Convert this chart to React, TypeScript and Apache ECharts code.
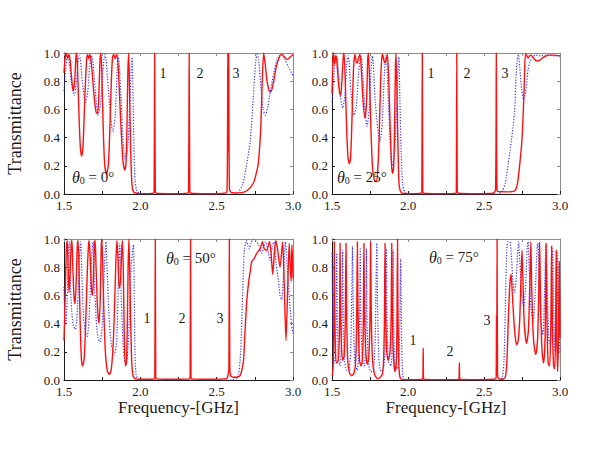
import React, { useEffect, useRef } from "react";
import * as echarts from "echarts";

// ---------- data (frequency in GHz, transmittance) ----------
const xTicks = [1.5, 2.0, 2.5, 3.0];
const yTicks = [0.0, 0.2, 0.4, 0.6, 0.8, 1.0];
const angles = ["0", "25", "50", "75"];
const modeLabels = ["1", "2", "3"];

const red0 = [[1.5,0.86],[1.508,0.97],[1.515,1.0],[1.523,0.96],[1.532,0.99],[1.54,0.95],[1.55,0.82],[1.56,0.73],[1.57,0.8],[1.578,0.97],[1.583,1.0],[1.59,0.85],[1.6,0.5],[1.608,0.32],[1.616,0.27],[1.625,0.35],[1.637,0.7],[1.648,0.95],[1.655,0.99],[1.662,0.96],[1.67,0.99],[1.68,0.92],[1.695,0.72],[1.71,0.58],[1.72,0.57],[1.728,0.7],[1.736,0.95],[1.742,1.0],[1.748,0.85],[1.756,0.5],[1.766,0.22],[1.778,0.14],[1.79,0.2],[1.8,0.45],[1.81,0.8],[1.818,0.97],[1.826,0.99],[1.835,0.96],[1.845,0.99],[1.855,0.9],[1.87,0.55],[1.885,0.25],[1.898,0.17],[1.905,0.2],[1.912,0.45],[1.918,0.85],[1.924,1.0],[1.93,0.7],[1.936,0.35],[1.945,0.07],[1.955,0.015],[1.975,0.005],[2.0,0.003],[2.05,0.003],[2.085,0.006],[2.09,0.02],[2.094,1.0],[2.098,0.02],[2.105,0.005],[2.2,0.002],[2.31,0.006],[2.316,0.02],[2.32,1.0],[2.324,0.02],[2.33,0.005],[2.45,0.002],[2.55,0.005],[2.568,0.02],[2.573,1.0],[2.576,0.3],[2.579,1.0],[2.584,0.03],[2.6,0.01],[2.65,0.008],[2.7,0.025],[2.74,0.076],[2.76,0.15],[2.773,0.22],[2.788,0.45],[2.799,0.81],[2.808,1.0],[2.818,0.92],[2.83,0.8],[2.845,0.73],[2.855,0.725],[2.87,0.78],[2.89,0.9],[2.91,0.97],[2.926,0.99],[2.945,0.97],[2.96,0.955],[2.98,0.97],[3.0,0.99]];
const blue0 = [[1.5,0.73],[1.51,0.88],[1.52,0.97],[1.527,0.98],[1.535,0.93],[1.55,0.78],[1.567,0.7],[1.58,0.78],[1.592,0.93],[1.6,0.98],[1.607,0.96],[1.62,0.8],[1.64,0.65],[1.655,0.72],[1.668,0.9],[1.68,0.98],[1.688,0.95],[1.7,0.8],[1.724,0.56],[1.74,0.65],[1.755,0.88],[1.768,0.99],[1.776,0.95],[1.79,0.75],[1.82,0.44],[1.835,0.55],[1.848,0.88],[1.855,0.98],[1.862,0.92],[1.875,0.65],[1.898,0.25],[1.915,0.3],[1.93,0.6],[1.942,0.92],[1.947,0.97],[1.952,0.7],[1.958,0.35],[1.965,0.1],[1.975,0.03],[1.99,0.005],[2.02,0],[2.5,0],[2.6,0],[2.64,0.01],[2.67,0.07],[2.69,0.17],[2.72,0.38],[2.74,0.69],[2.755,0.93],[2.765,0.99],[2.775,0.95],[2.79,0.75],[2.805,0.6],[2.818,0.56],[2.835,0.62],[2.855,0.75],[2.875,0.86],[2.895,0.95],[2.91,0.98],[2.925,0.99],[2.945,0.96],[2.97,0.9],[3.0,0.84]];

const red25 = [[1.5,0.71],[1.506,0.95],[1.51,1.0],[1.517,0.92],[1.524,0.98],[1.53,0.96],[1.54,0.82],[1.55,0.72],[1.557,0.7],[1.565,0.8],[1.574,0.97],[1.579,1.0],[1.586,0.85],[1.595,0.5],[1.605,0.26],[1.614,0.216],[1.623,0.27],[1.632,0.55],[1.642,0.9],[1.651,0.99],[1.659,0.94],[1.667,0.93],[1.675,0.97],[1.684,0.99],[1.692,0.9],[1.705,0.65],[1.717,0.54],[1.727,0.65],[1.735,0.95],[1.74,1.0],[1.746,0.85],[1.755,0.5],[1.766,0.2],[1.778,0.1],[1.79,0.088],[1.8,0.15],[1.81,0.4],[1.82,0.8],[1.828,0.97],[1.833,0.99],[1.841,0.95],[1.849,0.93],[1.857,0.96],[1.864,0.99],[1.872,0.85],[1.882,0.5],[1.892,0.2],[1.899,0.146],[1.906,0.2],[1.912,0.5],[1.917,0.88],[1.921,1.0],[1.927,0.75],[1.932,0.45],[1.938,0.15],[1.943,0.05],[1.955,0.01],[1.97,0.004],[2.05,0.003],[2.088,0.006],[2.091,0.02],[2.094,1.0],[2.097,0.02],[2.102,0.005],[2.2,0.002],[2.316,0.006],[2.318,0.02],[2.321,1.0],[2.324,0.02],[2.33,0.005],[2.45,0.002],[2.56,0.005],[2.576,0.03],[2.581,1.0],[2.584,0.15],[2.587,0.02],[2.61,0.016],[2.66,0.015],[2.7,0.02],[2.715,0.05],[2.726,0.12],[2.738,0.24],[2.748,0.36],[2.756,0.52],[2.762,0.69],[2.767,0.85],[2.772,0.99],[2.778,0.99],[2.785,0.97],[2.792,0.965],[2.8,0.98],[2.809,0.985],[2.825,0.965],[2.845,0.945],[2.86,0.945],[2.885,0.965],[2.91,0.98],[2.923,0.985],[2.96,0.985],[3.0,0.98]];
const blue25 = [[1.5,0.65],[1.51,0.8],[1.522,0.95],[1.53,0.98],[1.538,0.93],[1.552,0.72],[1.57,0.61],[1.585,0.7],[1.597,0.92],[1.605,0.98],[1.613,0.93],[1.625,0.72],[1.645,0.56],[1.66,0.62],[1.675,0.86],[1.69,0.98],[1.697,0.94],[1.71,0.7],[1.73,0.48],[1.745,0.6],[1.757,0.88],[1.765,0.98],[1.772,0.92],[1.785,0.65],[1.815,0.37],[1.83,0.5],[1.845,0.86],[1.855,0.98],[1.862,0.9],[1.875,0.55],[1.895,0.2],[1.91,0.27],[1.925,0.6],[1.936,0.92],[1.94,0.97],[1.946,0.7],[1.955,0.3],[1.965,0.07],[1.98,0.01],[2.0,0],[2.5,0],[2.59,0],[2.62,0.02],[2.64,0.08],[2.66,0.22],[2.68,0.38],[2.7,0.57],[2.71,0.82],[2.718,0.95],[2.726,0.99],[2.735,0.9],[2.748,0.74],[2.76,0.67],[2.775,0.73],[2.79,0.88],[2.8,0.93],[2.82,0.97],[2.84,0.985],[2.87,0.98],[2.92,0.985],[2.96,0.98],[3.0,0.98]];

const red50 = [[1.5,0.28],[1.508,0.6],[1.515,0.92],[1.521,0.99],[1.527,0.8],[1.533,0.62],[1.54,0.75],[1.547,0.96],[1.552,0.99],[1.558,0.8],[1.565,0.6],[1.572,0.54],[1.58,0.7],[1.587,0.95],[1.592,0.99],[1.598,0.8],[1.606,0.4],[1.614,0.15],[1.622,0.1],[1.632,0.15],[1.642,0.4],[1.652,0.75],[1.66,0.95],[1.665,0.99],[1.672,0.85],[1.68,0.65],[1.687,0.6],[1.694,0.78],[1.7,0.97],[1.704,0.99],[1.71,0.8],[1.72,0.5],[1.73,0.4],[1.738,0.6],[1.744,0.95],[1.748,1.0],[1.754,0.8],[1.762,0.45],[1.772,0.18],[1.785,0.06],[1.798,0.04],[1.81,0.08],[1.822,0.25],[1.832,0.55],[1.84,0.85],[1.847,0.99],[1.854,0.85],[1.862,0.65],[1.87,0.7],[1.878,0.92],[1.883,0.99],[1.889,0.75],[1.895,0.3],[1.902,0.1],[1.909,0.12],[1.915,0.4],[1.92,0.8],[1.925,1.0],[1.93,0.8],[1.936,0.45],[1.944,0.12],[1.952,0.03],[1.965,0.01],[1.99,0.005],[2.05,0.005],[2.092,0.008],[2.095,0.03],[2.098,1.0],[2.101,0.03],[2.106,0.008],[2.2,0.005],[2.323,0.008],[2.326,0.03],[2.329,1.0],[2.332,0.03],[2.337,0.008],[2.45,0.005],[2.565,0.01],[2.575,0.04],[2.58,0.08],[2.583,1.0],[2.586,0.1],[2.592,0.03],[2.61,0.02],[2.635,0.02],[2.655,0.035],[2.667,0.08],[2.676,0.14],[2.686,0.35],[2.698,0.57],[2.71,0.7],[2.72,0.77],[2.73,0.84],[2.745,0.86],[2.763,0.9],[2.785,0.93],[2.8,0.98],[2.812,0.93],[2.828,0.92],[2.845,0.98],[2.855,0.92],[2.867,0.75],[2.878,0.9],[2.888,0.99],[2.9,0.92],[2.915,0.8],[2.932,0.98],[2.942,0.7],[2.954,0.28],[2.964,0.6],[2.975,0.97],[2.982,0.8],[2.988,0.7],[2.993,0.96],[2.997,0.85],[3.0,0.72]];
const blue50 = [[1.5,0.66],[1.505,0.45],[1.512,0.4],[1.52,0.55],[1.53,0.95],[1.535,0.98],[1.542,0.7],[1.55,0.5],[1.562,0.38],[1.575,0.36],[1.59,0.55],[1.603,0.9],[1.61,0.98],[1.617,0.75],[1.628,0.45],[1.64,0.34],[1.652,0.31],[1.665,0.45],[1.68,0.85],[1.69,0.98],[1.697,0.75],[1.71,0.45],[1.722,0.3],[1.735,0.27],[1.75,0.38],[1.765,0.8],[1.775,0.98],[1.782,0.8],[1.795,0.45],[1.81,0.25],[1.83,0.18],[1.845,0.28],[1.857,0.75],[1.865,0.97],[1.872,0.7],[1.885,0.3],[1.9,0.13],[1.912,0.14],[1.925,0.35],[1.94,0.8],[1.955,0.96],[1.96,0.6],[1.965,0.2],[1.972,0.04],[1.985,0.005],[2.0,0],[2.5,0],[2.6,0],[2.63,0.01],[2.645,0.05],[2.657,0.2],[2.665,0.43],[2.674,0.75],[2.68,0.9],[2.694,0.99],[2.705,0.95],[2.712,0.93],[2.725,0.97],[2.74,1.0],[2.76,0.98],[2.775,0.96],[2.795,0.9],[2.81,0.95],[2.82,0.98],[2.835,0.92],[2.85,0.85],[2.865,0.95],[2.875,0.98],[2.89,0.82],[2.905,0.7],[2.915,0.6],[2.926,0.57],[2.94,0.8],[2.95,0.98],[2.96,0.85],[2.975,0.6],[2.99,0.4],[3.0,0.33]];

const red75 = [[1.5,0.03],[1.505,0.05],[1.51,0.2],[1.513,0.6],[1.515,0.98],[1.518,0.5],[1.523,0.2],[1.53,0.12],[1.54,0.14],[1.548,0.3],[1.551,0.6],[1.553,0.97],[1.556,0.55],[1.562,0.25],[1.57,0.14],[1.58,0.17],[1.587,0.4],[1.592,0.97],[1.596,0.5],[1.603,0.15],[1.615,0.05],[1.63,0.03],[1.645,0.05],[1.655,0.12],[1.662,0.4],[1.667,0.98],[1.671,0.5],[1.68,0.15],[1.69,0.1],[1.7,0.14],[1.706,0.4],[1.71,0.97],[1.714,0.5],[1.722,0.2],[1.732,0.11],[1.742,0.16],[1.75,0.45],[1.754,0.98],[1.758,0.5],[1.766,0.15],[1.78,0.04],[1.8,0.01],[1.82,0.02],[1.835,0.06],[1.844,0.35],[1.849,0.97],[1.853,0.5],[1.86,0.2],[1.87,0.14],[1.882,0.2],[1.889,0.45],[1.893,0.97],[1.897,0.5],[1.905,0.15],[1.915,0.06],[1.924,0.15],[1.928,0.5],[1.931,1.0],[1.934,0.5],[1.94,0.1],[1.95,0.01],[1.97,0.003],[2.05,0.003],[2.095,0.005],[2.098,0.02],[2.1,0.225],[2.102,0.02],[2.107,0.004],[2.2,0.003],[2.333,0.004],[2.336,0.015],[2.338,0.122],[2.34,0.015],[2.345,0.004],[2.45,0.003],[2.57,0.005],[2.58,0.02],[2.582,0.46],[2.584,0.05],[2.586,1.0],[2.589,0.05],[2.595,0.01],[2.62,0.005],[2.64,0.02],[2.65,0.12],[2.66,0.43],[2.67,0.68],[2.678,0.75],[2.686,0.62],[2.696,0.43],[2.706,0.3],[2.715,0.25],[2.725,0.28],[2.735,0.43],[2.743,0.7],[2.75,0.92],[2.755,0.75],[2.765,0.4],[2.78,0.26],[2.792,0.35],[2.802,0.7],[2.808,0.98],[2.814,0.65],[2.825,0.3],[2.84,0.18],[2.852,0.28],[2.86,0.6],[2.866,0.98],[2.872,0.55],[2.882,0.2],[2.892,0.12],[2.902,0.3],[2.908,0.97],[2.914,0.45],[2.922,0.12],[2.932,0.1],[2.94,0.4],[2.945,0.95],[2.95,0.4],[2.958,0.1],[2.966,0.08],[2.972,0.5],[2.975,0.92],[2.979,0.3],[2.985,0.06],[2.99,0.3],[2.995,0.84],[3.0,0.3]];
const blue75 = [[1.5,0.9],[1.503,0.6],[1.508,0.25],[1.515,0.12],[1.522,0.14],[1.527,0.4],[1.531,0.9],[1.535,0.45],[1.543,0.15],[1.552,0.1],[1.56,0.2],[1.566,0.5],[1.57,0.92],[1.574,0.45],[1.582,0.15],[1.595,0.07],[1.61,0.07],[1.622,0.2],[1.63,0.6],[1.635,0.95],[1.64,0.5],[1.65,0.13],[1.665,0.07],[1.675,0.15],[1.682,0.5],[1.686,0.93],[1.69,0.45],[1.7,0.13],[1.712,0.1],[1.722,0.3],[1.727,0.93],[1.731,0.4],[1.74,0.12],[1.755,0.06],[1.77,0.06],[1.783,0.25],[1.79,0.7],[1.795,0.97],[1.8,0.5],[1.81,0.12],[1.825,0.06],[1.842,0.1],[1.852,0.35],[1.858,0.93],[1.862,0.45],[1.872,0.13],[1.888,0.1],[1.897,0.35],[1.902,0.92],[1.906,0.4],[1.915,0.1],[1.932,0.08],[1.945,0.3],[1.952,0.86],[1.956,0.5],[1.962,0.1],[1.97,0.01],[1.985,0],[2.5,0],[2.6,0],[2.62,0.02],[2.632,0.15],[2.642,0.6],[2.65,0.93],[2.657,0.98],[2.67,0.98],[2.68,0.88],[2.69,0.7],[2.7,0.62],[2.712,0.72],[2.722,0.92],[2.728,0.98],[2.735,0.85],[2.75,0.58],[2.762,0.52],[2.775,0.7],[2.785,0.95],[2.79,0.98],[2.797,0.8],[2.81,0.5],[2.823,0.42],[2.838,0.65],[2.85,0.95],[2.855,0.97],[2.862,0.75],[2.875,0.4],[2.887,0.32],[2.898,0.6],[2.906,0.94],[2.91,0.96],[2.917,0.6],[2.93,0.26],[2.94,0.3],[2.948,0.85],[2.952,0.93],[2.958,0.5],[2.968,0.2],[2.978,0.4],[2.984,0.9],[2.988,0.6],[2.995,0.3],[3.0,0.2]];

const redSeries = [red0, red25, red50, red75];
const blueSeries = [blue0, blue25, blue50, blue75];

// ---------- layout / style ----------
const FONT = "'Liberation Serif', 'Times New Roman', serif";
const INK = "#1a1a1a";
const GRIDS = [
  { left: 64, top: 53, width: 229, height: 141 },
  { left: 332, top: 53, width: 228, height: 141 },
  { left: 64, top: 239, width: 229, height: 141 },
  { left: 332, top: 239, width: 228, height: 141 },
];
// annotation anchors (pixels)
const MODE_POS = [
  [[163, 73], [200, 73], [236, 73]],
  [[431, 73], [467, 73], [505, 73]],
  [[147, 318], [182, 318], [220, 318]],
  [[413, 340], [450, 351], [487, 320]],
];
const THETA_POS = [[72, 177], [337, 177], [166, 258], [429, 257]];

function near(v: number, list: number[]) {
  return list.some((t) => Math.abs(t - v) < 1e-6);
}

function buildOption() {
  const xAxis: any[] = [];
  const yAxis: any[] = [];
  const series: any[] = [];
  const graphic: any[] = [];

  GRIDS.forEach((g, i) => {
    const bottomRow = i >= 2;
    const leftCol = i % 2 === 0;
    xAxis.push({
      type: "value", gridIndex: i, min: 1.5, max: 3.0, interval: 0.25, position: "bottom",
      axisLine: { onZero: false, lineStyle: { color: INK, width: 1 } },
      axisTick: { inside: true, length: 3, lineStyle: { color: INK } },
      splitLine: { show: false },
      axisLabel: {
        margin: 5, color: INK, fontFamily: FONT, fontSize: 13,
        formatter: (v: number) => (near(v, xTicks) ? v.toFixed(1) : ""),
      },
      name: bottomRow ? "Frequency-[GHz]" : "",
      nameLocation: "middle", nameGap: 19,
      nameTextStyle: { fontFamily: FONT, fontSize: 17, color: INK },
    });
    xAxis.push({
      type: "value", gridIndex: i, min: 1.5, max: 3.0, interval: 0.25, position: "top",
      axisLine: { onZero: false, lineStyle: { color: "#8a8a8a", width: 1 } },
      axisTick: { inside: true, length: 3, lineStyle: { color: "#8a8a8a" } },
      splitLine: { show: false }, axisLabel: { show: false },
    });
    yAxis.push({
      type: "value", gridIndex: i, min: 0, max: 1, interval: 0.2, position: "left",
      axisLine: { show: true, onZero: false, lineStyle: { color: INK, width: 1 } },
      axisTick: { show: true, inside: true, length: 3, lineStyle: { color: INK } },
      splitLine: { show: false },
      axisLabel: {
        margin: 4, color: INK, fontFamily: FONT, fontSize: 13,
        formatter: (v: number) => (near(v, yTicks) ? v.toFixed(1) : ""),
      },
      name: leftCol ? "Transmittance" : "",
      nameLocation: "middle", nameGap: 40, nameRotate: 90,
      nameTextStyle: { fontFamily: FONT, fontSize: 18, color: INK },
    });
    yAxis.push({
      type: "value", gridIndex: i, min: 0, max: 1, interval: 0.2, position: "right",
      axisLine: { show: true, onZero: false, lineStyle: { color: "#8a8a8a", width: 1 } },
      axisTick: { show: true, inside: true, length: 3, lineStyle: { color: "#8a8a8a" } },
      splitLine: { show: false }, axisLabel: { show: false },
    });

    series.push({
      type: "line", xAxisIndex: 2 * i, yAxisIndex: 2 * i, data: blueSeries[i],
      showSymbol: false, symbol: "none", smooth: 0.25, clip: true, silent: true,
      lineStyle: { color: "#3535ff", width: 1.2, type: [1.2, 1.6] },
      z: 2,
    });
    series.push({
      type: "line", xAxisIndex: 2 * i, yAxisIndex: 2 * i, data: redSeries[i],
      showSymbol: false, symbol: "none", smooth: 0.25, clip: true, silent: true,
      lineStyle: { color: "#ff1010", width: 1.4 },
      z: 3,
    });

    MODE_POS[i].forEach((p, k) => {
      graphic.push({
        type: "text", x: p[0], y: p[1], z: 10, silent: true,
        style: {
          text: modeLabels[k], fill: INK, fontFamily: FONT, fontSize: 14,
          align: "center", verticalAlign: "middle",
          textAlign: "center", textVerticalAlign: "middle",
        },
      });
    });
    const tp = THETA_POS[i];
    graphic.push({
      type: "text", x: tp[0], y: tp[1], z: 10, silent: true,
      style: {
        text: "{t|θ}{s|0}{n| = " + angles[i] + "°}",
        fill: INK, fontFamily: FONT, fontSize: 15,
        align: "left", verticalAlign: "middle",
        textAlign: "left", textVerticalAlign: "middle",
        rich: {
          t: { fontFamily: FONT, fontSize: 16, fontStyle: "italic", fill: INK, color: INK, verticalAlign: "middle" },
          s: { fontFamily: FONT, fontSize: 10, fill: INK, color: INK, verticalAlign: "bottom" },
          n: { fontFamily: FONT, fontSize: 15, fill: INK, color: INK, verticalAlign: "middle" },
        },
      },
    });
  });

  return {
    animation: false,
    backgroundColor: "#ffffff",
    grid: GRIDS.map((g) => ({ ...g, containLabel: false })),
    xAxis,
    yAxis,
    series,
    graphic,
  };
}

export default function App() {
  const ref = useRef<HTMLDivElement>(null);
  useEffect(() => {
    document.body.style.margin = "0";
    if (!ref.current) return;
    const chart = echarts.init(ref.current, undefined, { renderer: "svg" });
    chart.setOption(buildOption() as any);
    return () => chart.dispose();
  }, []);
  return <div ref={ref} style={{ width: 600, height: 464 }} />;
}
